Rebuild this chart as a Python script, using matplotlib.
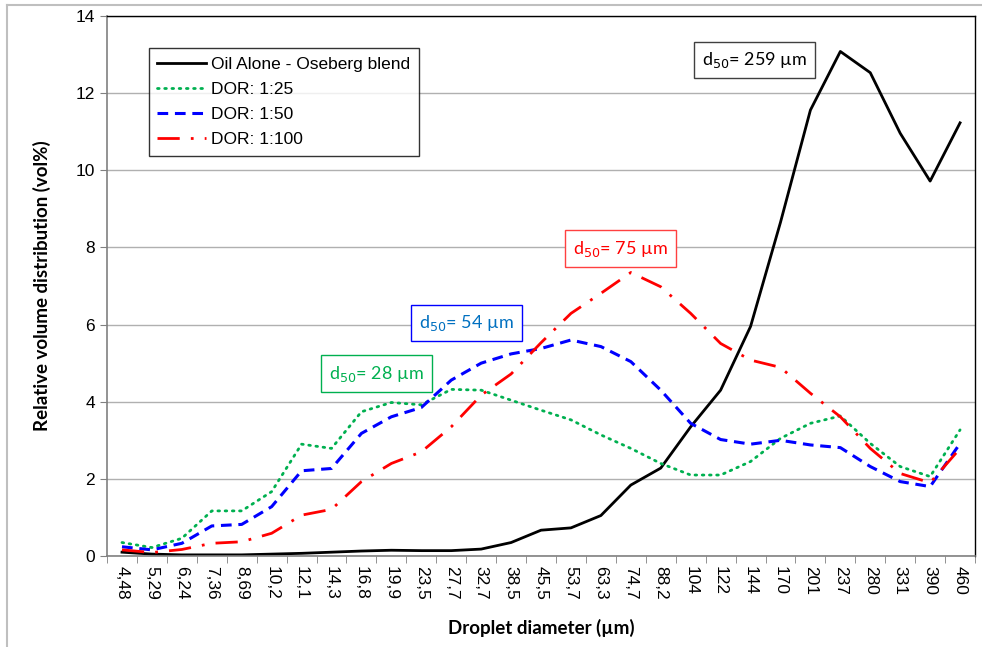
import matplotlib.pyplot as plt
from matplotlib.lines import Line2D
import numpy as np

plt.rcParams["font.family"] = ["Liberation Sans", "DejaVu Sans"]

sizes = ["4,48", "5,29", "6,24", "7,36", "8,69", "10,2", "12,1", "14,3", "16,8", "19,9",
         "23,5", "27,7", "32,7", "38,5", "45,5", "53,7", "63,3", "74,7", "88,2", "104",
         "122", "144", "170", "201", "237", "280", "331", "390", "460"]

oil_alone = [0.10, 0.05, 0.03, 0.03, 0.03, 0.05, 0.07, 0.10, 0.13, 0.15,
             0.14, 0.14, 0.18, 0.35, 0.67, 0.73, 1.05, 1.84, 2.28, 3.35,
             4.30, 5.95, 8.65, 11.56, 13.08, 12.53, 10.96, 9.72, 11.23]
dor_25 = [0.35, 0.22, 0.46, 1.17, 1.17, 1.67, 2.90, 2.79, 3.74, 3.98,
          3.92, 4.32, 4.30, 4.04, 3.78, 3.53, 3.14, 2.79, 2.40, 2.10,
          2.10, 2.45, 3.05, 3.44, 3.63, 2.92, 2.32, 2.06, 3.27]
dor_50 = [0.24, 0.16, 0.33, 0.78, 0.82, 1.28, 2.21, 2.27, 3.18, 3.61,
          3.85, 4.56, 5.00, 5.24, 5.38, 5.60, 5.43, 5.04, 4.30, 3.44,
          3.02, 2.90, 3.00, 2.88, 2.81, 2.32, 1.93, 1.80, 2.92]
dor_100 = [0.16, 0.09, 0.17, 0.33, 0.37, 0.59, 1.06, 1.21, 1.93, 2.40,
           2.70, 3.35, 4.17, 4.72, 5.53, 6.29, 6.81, 7.35, 6.98, 6.29,
           5.51, 5.08, 4.89, 4.22, 3.61, 2.79, 2.14, 1.90, 2.79]

x = np.arange(len(sizes))

fig = plt.figure(figsize=(9.82, 6.47), dpi=100)
ax = fig.add_axes([0.109, 0.1406, 0.8839, 0.8347])

ax.plot(x, oil_alone, color="black", lw=2, label="Oil Alone - Oseberg blend")
ax.plot(x, dor_25, color="#00B050", lw=2, linestyle=(0, (0.6, 2.0)), dash_capstyle="round",
        label="DOR: 1:25")
ax.plot(x, dor_50, color="#0000FF", lw=2.2, linestyle=(0, (3.5, 2.2)), label="DOR: 1:50")
ax.plot(x, dor_100, color="#FF0000", lw=2, linestyle=(0, (8, 4, 1, 4)), label="DOR: 1:100")

ax.set_xlim(-0.5, len(sizes) - 0.5)
ax.set_ylim(0, 14)
ax.set_yticks(range(0, 15, 2))
ax.set_xticks(x)
ax.set_xticklabels(sizes, rotation=270, fontsize=12.5)
ax.set_xticks(np.arange(-0.5, len(sizes), 1), minor=True)
ax.tick_params(axis="x", which="major", length=0, pad=7)
ax.tick_params(axis="x", which="minor", length=5, color="#808080")
ax.tick_params(axis="y", length=5, color="#808080", labelsize=12.5)
ax.yaxis.grid(True, color="#B0B0B0", lw=1)
ax.set_axisbelow(True)
for s in ["left", "bottom"]:
    ax.spines[s].set_color("#808080")
    ax.spines[s].set_linewidth(1.2)
for s in ["top", "right"]:
    ax.spines[s].set_color("black")
    ax.spines[s].set_linewidth(1)

ax.set_ylabel("Relative volume distribution (vol%)", family="Lato", fontweight="bold",
              fontsize=13.5, labelpad=18)
ax.set_xlabel("Droplet diameter (µm)", family="Lato", fontweight="bold", fontsize=13.5,
              labelpad=14)

leg = ax.legend(loc="upper left", bbox_to_anchor=(0.048, 0.941), fontsize=12.5,
                frameon=True, fancybox=False, edgecolor="black", handlelength=2.8,
                borderpad=0.5, labelspacing=0.58, handletextpad=0.3, borderaxespad=0)
leg.get_frame().set_linewidth(1)

notes = [
    (19.38, 12.85, r"d$_{50}$= 259 µm", "black", "#404040"),
    (15.07, 7.97, r"d$_{50}$= 75 µm", "#FF0000", "#FF4040"),
    (9.92, 6.04, r"d$_{50}$= 54 µm", "#0070C0", "#0000FF"),
    (6.92, 4.73, r"d$_{50}$= 28 µm", "#00B050", "#00B050"),
]
for xi, yi, txt, tc, ec in notes:
    ax.text(xi, yi, txt, color=tc, fontsize=13, family="Lato", ha="left", va="center",
            bbox=dict(boxstyle="square,pad=0.45", fc="white", ec=ec, lw=1))

fig.add_artist(Line2D([0.0071, 1.0], [0.9923, 0.9923], color="#BFBFBF", lw=1.5))
fig.add_artist(Line2D([0.0071, 0.0071], [0.0, 0.9923], color="#BFBFBF", lw=1.5))

fig.savefig("out.png", dpi=100)
